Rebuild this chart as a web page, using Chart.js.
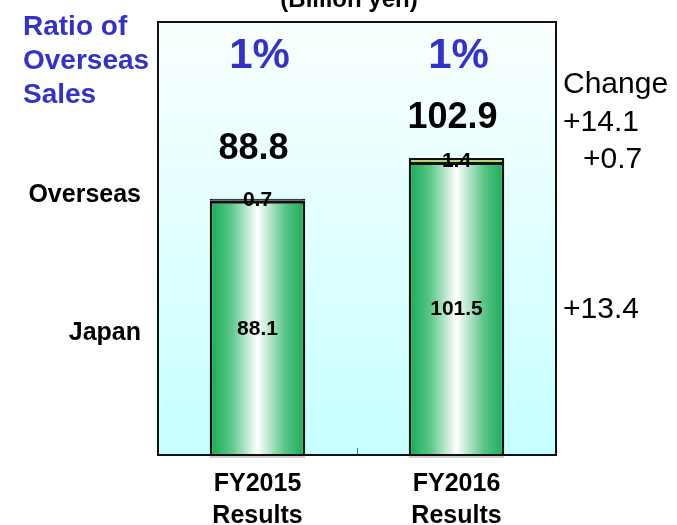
<!DOCTYPE html>
<html>
<head>
<meta charset="utf-8">
<script src="https://cdn.jsdelivr.net/npm/chart.js@4/dist/chart.umd.min.js"></script>
<style>
  html, body { margin: 0; padding: 0; background: #fff; }
  canvas { display: block; }
</style>
</head>
<body>
<canvas id="myChart" width="677" height="525"></canvas>
<script>
// Net sales by region (billion yen)
const periods = [["FY2015", "Results"], ["FY2016", "Results"]];
const japanSales = [88.1, 101.5];
const overseasSales = [0.7, 1.4];
const overseasRatio = ["1%", "1%"];
const regionNames = ["Japan", "Overseas"];

const FONT = "'Liberation Sans', Arial, sans-serif";
const BLUE = "#3333cc";
const BAR_SHARE = 0.6 * 0.8;
// how far the total sits above each stack
const totalLift = [40, 30];

function total(i) {
  return japanSales[i] + overseasSales[i];
}

function signed(v) {
  return (v >= 0 ? "+" : "") + v.toFixed(1);
}

function barFill(context) {
  const chart = context.chart;
  if (!chart.chartArea || context.dataIndex === undefined) return "#2cb866";
  const xs = chart.scales.x;
  const cx = xs.getPixelForValue(context.dataIndex);
  const half = (xs.width / periods.length) * BAR_SHARE / 2;
  const g = chart.ctx.createLinearGradient(cx - half, 0, cx + half, 0);
  g.addColorStop(0, "#14aa55");
  g.addColorStop(0.22, "#58c686");
  g.addColorStop(0.5, "#ffffff");
  g.addColorStop(0.78, "#5cc68a");
  g.addColorStop(1, "#16ab58");
  return g;
}

// a sliver too thin to show its fill just reads as outline
function overseasFill(context) {
  return context.raw !== undefined && context.raw < 1 ? "#111" : "#b4d66e";
}

function text(ctx, str, x, y, font, color, align, baseline) {
  ctx.font = font;
  ctx.fillStyle = color;
  ctx.textAlign = align || "center";
  ctx.textBaseline = baseline || "alphabetic";
  ctx.fillText(str, x, y);
}

const decorations = {
  id: "decorations",
  beforeDraw(chart) {
    const { ctx, chartArea: a } = chart;
    const g = ctx.createLinearGradient(0, a.top, 0, a.bottom);
    g.addColorStop(0, "#fbffff");
    g.addColorStop(1, "#c6ffff");
    ctx.save();
    ctx.fillStyle = g;
    ctx.fillRect(a.left, a.top, a.right - a.left, a.bottom - a.top);

    // little divider tick between the periods
    const xs = chart.scales.x;
    const mid = Math.round((xs.getPixelForValue(0) + xs.getPixelForValue(1)) / 2) + 0.5;
    ctx.strokeStyle = "#667";
    ctx.lineWidth = 1;
    ctx.beginPath();
    ctx.moveTo(mid, a.bottom - 7);
    ctx.lineTo(mid, a.bottom);
    ctx.stroke();
    ctx.restore();
  },
  afterDatasetsDraw(chart) {
    const { ctx, chartArea: a } = chart;
    const xs = chart.scales.x;
    const jp = chart.getDatasetMeta(0).data;
    const os = chart.getDatasetMeta(1).data;
    const mid = (bar) => (bar.y + bar.base) / 2;

    ctx.save();
    // soft shadow under each stack
    ctx.fillStyle = "rgba(0,0,0,0.18)";
    jp.forEach((bar) => {
      ctx.fillRect(bar.x - bar.width / 2, a.bottom, bar.width, 3);
    });

    ctx.strokeStyle = "#111";
    ctx.lineWidth = 2;
    ctx.strokeRect(a.left, a.top, a.right - a.left, a.bottom - a.top);

    const bold = (px) => "bold " + px + "px " + FONT;

    text(ctx, "(Billion yen)", 349, 7, bold(24), "#000");

    ["Ratio of", "Overseas", "Sales"].forEach((line, k) => {
      text(ctx, line, 23, 35 + k * 34, bold(28), BLUE, "left");
    });

    for (let i = 0; i < periods.length; i++) {
      const cx = xs.getPixelForValue(i);
      text(ctx, overseasRatio[i], cx + 2, a.top + 46, bold(42), BLUE);
      text(ctx, total(i).toFixed(1), cx - 4, os[i].y - totalLift[i], bold(36), "#000");
      text(ctx, japanSales[i].toFixed(1), cx, mid(jp[i]) + 1, bold(21), "#000", "center", "middle");
      text(ctx, overseasSales[i].toFixed(1), cx, mid(os[i]) + 1, bold(21), "#000", "center", "middle");
    }

    // region names beside the first stack
    text(ctx, regionNames[1], a.left - 17, mid(os[0]) - 5, bold(25), "#000", "right", "middle");
    text(ctx, regionNames[0], a.left - 17, mid(jp[0]) + 5, bold(25), "#000", "right", "middle");

    // year-on-year change column
    const last = periods.length - 1;
    const rx = a.right + 7;
    const reg = "30px " + FONT;
    text(ctx, "Change", rx, a.top + 71, reg, "#000", "left");
    text(ctx, signed(total(last) - total(0)), rx, os[last].y - totalLift[last] + 3, reg, "#000", "left");
    text(ctx, signed(overseasSales[last] - overseasSales[0]), rx + 20, mid(os[last]) + 8, reg, "#000", "left");
    text(ctx, signed(japanSales[last] - japanSales[0]), rx, mid(jp[last]) + 9, reg, "#000", "left");
    ctx.restore();
  }
};

new Chart(document.getElementById("myChart"), {
  type: "bar",
  data: {
    labels: periods,
    datasets: [
      {
        label: regionNames[0],
        data: japanSales,
        backgroundColor: barFill,
        borderColor: "#111",
        borderWidth: { top: 3, left: 2.5, right: 2.5, bottom: 0 },
        categoryPercentage: 0.6,
        barPercentage: 0.8
      },
      {
        label: regionNames[1],
        data: overseasSales,
        backgroundColor: overseasFill,
        borderColor: "#111",
        borderWidth: { top: 2, left: 2.5, right: 2.5, bottom: 0 },
        categoryPercentage: 0.6,
        barPercentage: 0.8
      }
    ]
  },
  options: {
    responsive: false,
    animation: false,
    devicePixelRatio: 1,
    layout: { padding: { left: 158, top: 22, right: 121, bottom: 0 } },
    plugins: {
      legend: { display: false },
      tooltip: { enabled: false }
    },
    scales: {
      x: {
        stacked: true,
        grid: { display: false, drawTicks: false },
        border: { display: false },
        ticks: {
          color: "#000",
          padding: 13,
          maxRotation: 0,
          autoSkip: false,
          font: { family: FONT, size: 25, weight: "bold", lineHeight: 1.28 }
        },
        afterFit(scale) { scale.height = 70; }
      },
      y: {
        stacked: true,
        display: false,
        min: 0,
        max: 150
      }
    }
  },
  plugins: [decorations]
});
</script>
</body>
</html>
